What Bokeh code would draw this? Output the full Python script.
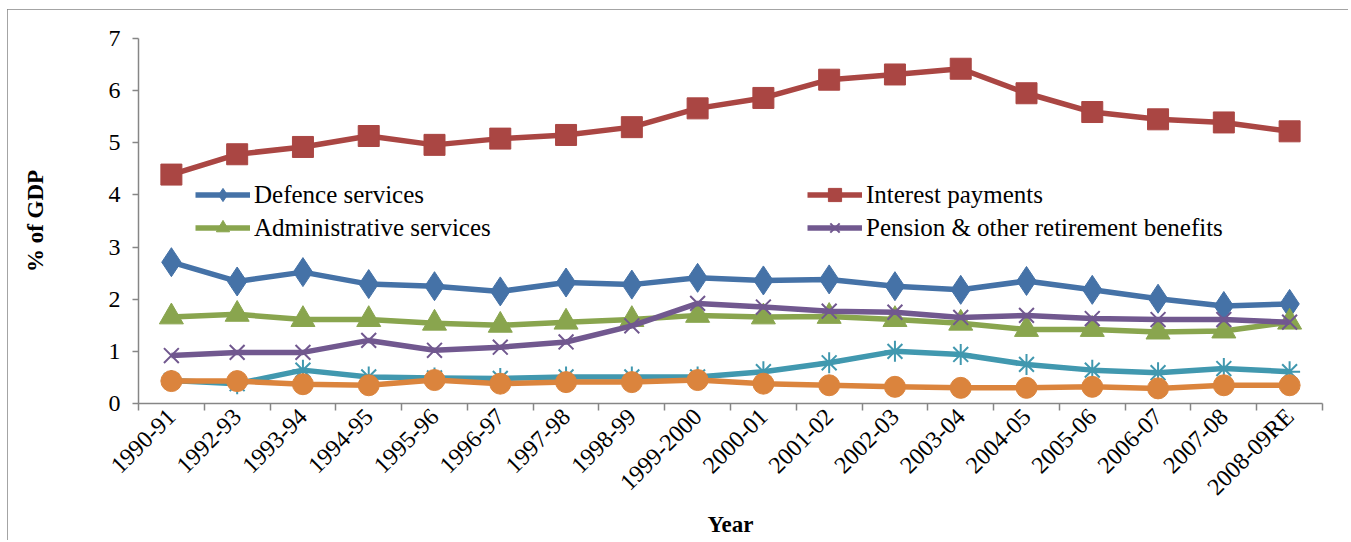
import math
from bokeh.plotting import figure
from bokeh.models import FixedTicker, Legend, LegendItem
from bokeh.embed import file_html
from bokeh.resources import INLINE

years = ["1990-91", "1992-93", "1993-94", "1994-95", "1995-96", "1996-97", "1997-98",
         "1998-99", "1999-2000", "2000-01", "2001-02", "2002-03", "2003-04", "2004-05",
         "2005-06", "2006-07", "2007-08", "2008-09RE"]

defence = [2.71, 2.34, 2.52, 2.29, 2.25, 2.15, 2.32, 2.28, 2.41, 2.36, 2.38, 2.25,
           2.18, 2.35, 2.18, 2.01, 1.87, 1.91]
interest = [4.39, 4.78, 4.92, 5.13, 4.96, 5.08, 5.15, 5.30, 5.66, 5.86, 6.21, 6.31,
            6.42, 5.95, 5.59, 5.45, 5.39, 5.22]
admin = [1.66, 1.71, 1.61, 1.61, 1.54, 1.50, 1.56, 1.61, 1.69, 1.66, 1.67, 1.61,
         1.54, 1.42, 1.42, 1.37, 1.39, 1.56]
pension = [0.92, 0.98, 0.98, 1.21, 1.02, 1.08, 1.18, 1.49, 1.92, 1.85, 1.77, 1.75,
           1.65, 1.69, 1.63, 1.61, 1.61, 1.56]
series5 = [0.44, 0.38, 0.64, 0.51, 0.49, 0.48, 0.51, 0.51, 0.51, 0.61, 0.78, 1.00,
           0.94, 0.75, 0.64, 0.59, 0.67, 0.61]
series6 = [0.43, 0.43, 0.37, 0.35, 0.45, 0.38, 0.41, 0.41, 0.45, 0.38, 0.35, 0.32,
           0.30, 0.30, 0.32, 0.29, 0.35, 0.35]

y_ticks = [0, 1, 2, 3, 4, 5, 6, 7]

FONT = "Liberation Serif"
GRAY = "#868686"

xs = list(range(len(years)))

p = figure(width=1341, height=531, output_backend="svg", toolbar_location=None,
           x_range=(-0.5, len(years) - 0.5), y_range=(0, 7),
           min_border_left=131, min_border_right=26, min_border_top=29,
           min_border_bottom=137)
p.styles = {"outline": "1px solid #868686", "outline-offset": "-1px",
            "margin-left": "7px", "margin-top": "9px"}
p.outline_line_color = None
p.grid.visible = False
p.background_fill_color = "white"
p.border_fill_color = "white"

# x axis: ticks between categories, labels at centers
xa = p.xaxis[0]
xa.ticker = FixedTicker(ticks=xs, minor_ticks=[i - 0.5 for i in range(len(years) + 1)])
xa.major_label_overrides = {i: lab for i, lab in enumerate(years)}
xa.major_tick_line_color = None
xa.major_tick_out = 0
xa.minor_tick_line_color = GRAY
xa.minor_tick_line_width = 1.5
xa.minor_tick_out = 7
xa.minor_tick_in = 0
xa.axis_line_color = GRAY
xa.axis_line_width = 1.5
xa.major_label_orientation = math.pi / 4
xa.major_label_standoff = 2
xa.major_label_text_font = FONT
xa.major_label_text_font_size = "24px"
xa.major_label_text_color = "black"
xa.axis_label = "Year"
xa.axis_label_text_font = FONT
xa.axis_label_text_font_style = "bold"
xa.axis_label_text_font_size = "23px"
xa.axis_label_standoff = 0
xa.axis_label_text_color = "black"

ya = p.yaxis[0]
ya.ticker = FixedTicker(ticks=y_ticks)
ya.minor_tick_line_color = None
ya.major_tick_line_color = GRAY
ya.major_tick_line_width = 1.5
ya.major_tick_out = 6
ya.major_tick_in = 0
ya.axis_line_color = GRAY
ya.axis_line_width = 1.5
ya.major_label_standoff = 12
ya.major_label_text_font = FONT
ya.major_label_text_font_size = "24px"
ya.major_label_text_color = "black"
ya.axis_label = "% of GDP"
ya.axis_label_text_font = FONT
ya.axis_label_text_font_style = "bold"
ya.axis_label_text_font_size = "23px"
ya.axis_label_standoff = 58
ya.axis_label_text_color = "black"

specs = [
    ("Defence services", defence, "#4572A7", "diamond", 29, 1),
    ("Interest payments", interest, "#AA4643", "square", 21, 1),
    ("Administrative services", admin, "#89A54E", "triangle", 24, 1),
    ("Pension & other retirement benefits", pension, "#71588F", "x", 21, 2),
    ("", series5, "#4198AF", "asterisk", 21, 2),
    ("", series6, "#DB843D", "circle", 21, 1),
]

renderers = {}
for name, vals, color, marker, size, mlw in specs:
    lr = p.line(xs, vals, line_color=color, line_width=5.5, line_join="round")
    if marker in ("x", "asterisk"):
        sr = p.scatter(xs, vals, marker=marker, size=size, line_color=color,
                       line_width=mlw, fill_color=None)
    else:
        sr = p.scatter(xs, vals, marker=marker, size=size, line_color=color,
                       fill_color=color, line_width=mlw)
    renderers[name] = [lr, sr]


def make_legend(names, x):
    lg = Legend(items=[LegendItem(label=n, renderers=renderers[n]) for n in names],
                location=(x, 159), orientation="vertical")
    lg.padding = 0
    lg.margin = 0
    lg.spacing = 0
    lg.border_line_color = None
    lg.background_fill_alpha = 0
    lg.glyph_width = 55
    lg.glyph_height = 33
    lg.label_height = 33
    lg.label_standoff = 4
    lg.label_text_font = FONT
    lg.label_text_font_size = "25px"
    lg.label_text_color = "black"
    lg.label_text_baseline = "middle"
    return lg


p.add_layout(make_legend(["Defence services", "Administrative services"], 57), "center")
p.add_layout(make_legend(["Interest payments", "Pension & other retirement benefits"], 669), "center")

open("out.html", "w").write(file_html(p, INLINE))
